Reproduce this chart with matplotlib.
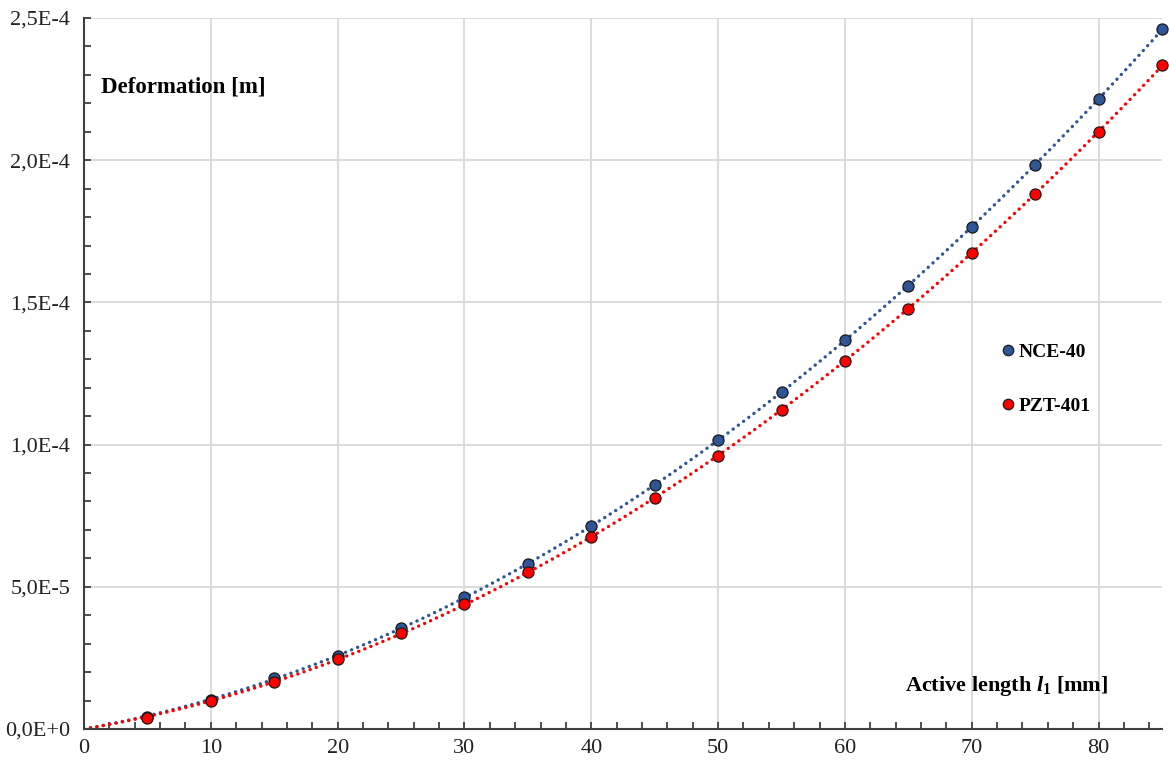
import numpy as np
import matplotlib
matplotlib.use("Agg")
import matplotlib.pyplot as plt
from matplotlib.ticker import MultipleLocator, FuncFormatter
from matplotlib.lines import Line2D

# ---- data ----
length_mm = [5, 10, 15, 20, 25, 30, 35, 40, 45, 50, 55, 60, 65, 70, 75, 80, 85]
nce40 = [0.42e-5, 1.02e-5, 1.79e-5, 2.57e-5, 3.55e-5, 4.64e-5, 5.80e-5, 7.14e-5,
         8.58e-5, 10.16e-5, 11.85e-5, 13.68e-5, 15.58e-5, 17.65e-5, 19.83e-5,
         22.15e-5, 24.61e-5]
pzt401 = [0.39e-5, 0.98e-5, 1.65e-5, 2.46e-5, 3.38e-5, 4.40e-5, 5.52e-5, 6.75e-5,
          8.12e-5, 9.60e-5, 11.22e-5, 12.94e-5, 14.77e-5, 16.74e-5, 18.81e-5,
          20.99e-5, 23.35e-5]
series_names = ["NCE-40", "PZT-401"]
x_label = "Active length $\\mathit{l}_{\\mathrm{1}}$ [mm]"
y_label = "Deformation [m]"

plt.rcParams['font.family'] = ['Liberation Serif', 'DejaVu Serif']
plt.rcParams['mathtext.fontset'] = 'custom'
plt.rcParams['mathtext.rm'] = 'Liberation Serif:bold'
plt.rcParams['mathtext.it'] = 'Liberation Serif:italic:bold'
plt.rcParams['mathtext.bf'] = 'Liberation Serif:bold'

blue = '#2F5597'
red = '#FF0000'

fig = plt.figure(figsize=(11.69, 7.61), dpi=100)
ax = fig.add_axes([84/1169, 1-729/761, (1162-84)/1169, (729-18)/761])

x = np.array(length_mm, dtype=float)


def trend(yvals):
    y = np.array(yvals)
    A = np.vstack([x**2, x]).T
    coef, *_ = np.linalg.lstsq(A, y, rcond=None)
    xs = np.linspace(0, 85, 300)
    return xs, coef[0]*xs**2 + coef[1]*xs


for yv, col in [(nce40, blue), (pzt401, red)]:
    xs, ys = trend(yv)
    ax.plot(xs, ys, linestyle=(0, (0.05, 1.9)), color=col, lw=2.4,
            dash_capstyle='round', zorder=2)
    ax.plot(x, yv, 'o', color=col, markeredgecolor='#1a1a1a', markeredgewidth=0.9,
            markersize=8, zorder=3, clip_on=False)

ax.set_xlim(0, 85)
ax.set_ylim(0, 2.5e-4)
ax.xaxis.set_major_locator(MultipleLocator(10))
ax.xaxis.set_minor_locator(MultipleLocator(2))
ax.yaxis.set_major_locator(MultipleLocator(5e-5))
ax.yaxis.set_minor_locator(MultipleLocator(1e-5))


def sci(v, pos):
    m, e = f"{v:.1E}".split('E')
    return f"{m.replace('.', ',')}E{int(e):+d}"


ax.yaxis.set_major_formatter(FuncFormatter(sci))

ax.grid(True, which='major', color='#d9d9d9', lw=1.3, zorder=0)
ax.set_axisbelow(True)
for s in ['top', 'right']:
    ax.spines[s].set_visible(False)
for s in ['left', 'bottom']:
    ax.spines[s].set_color('#404040')
    ax.spines[s].set_linewidth(1.5)

ax.tick_params(which='both', direction='in', length=5, width=1.3, color='#404040',
               labelsize=16, labelcolor='#222222')
ax.tick_params(axis='x', which='major', pad=7)
ax.tick_params(axis='y', which='major', pad=10)

fig.text(101/1169, 1-87/761, y_label, fontsize=16.5, fontweight='bold',
         va='center', ha='left')
fig.text(1108/1169, 1-686/761, x_label, fontsize=16, fontweight='bold',
         va='center', ha='right')

handles = [Line2D([], [], marker='o', ls='none', color=blue, markeredgecolor='#1a1a1a',
                  markeredgewidth=0.9, markersize=7.5),
           Line2D([], [], marker='o', ls='none', color=red, markeredgecolor='#1a1a1a',
                  markeredgewidth=0.9, markersize=7.5)]
leg = ax.legend(handles, series_names, loc='upper left',
                bbox_to_anchor=(981/1169, 1-326/761), bbox_transform=fig.transFigure,
                frameon=False, handletextpad=0.05, handlelength=1.0,
                labelspacing=1.85, prop={'family': 'Liberation Serif', 'weight': 'bold', 'size': 14})

fig.savefig('out.png', dpi=100, facecolor='white')
